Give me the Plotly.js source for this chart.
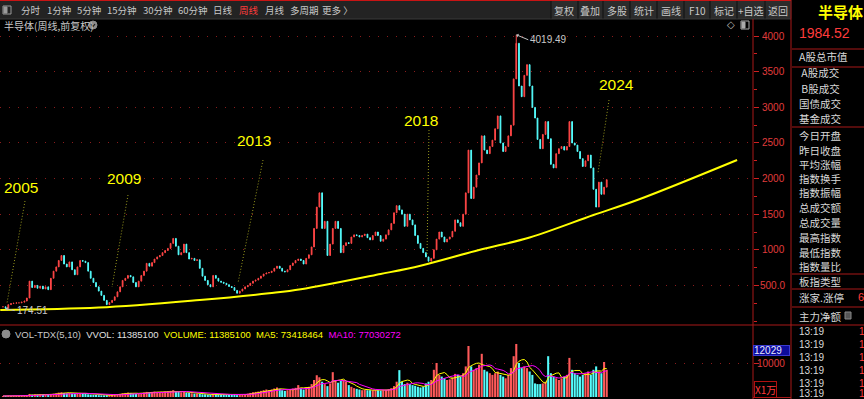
<!DOCTYPE html>
<html><head><meta charset="utf-8">
<script src="https://cdn.plot.ly/plotly-3.0.1.min.js"></script>
<style>html,body{margin:0;padding:0;background:#000;overflow:hidden}#chart{width:864px;height:399px}</style>
</head><body><div id="chart"></div>
<script>
// ---------------- DATA ----------------
const firstMonth = [2005, 6];           // first candle month (year, month)
// monthly closes
const closes = [
 200,180,230,245,250,255,255,
 265,280,323,560,470,500,460,490,450,480,440,600,
 700,760,850,920,800,760,830,720,650,760,850,840,
 820,700,600,540,480,420,360,290,230,260,290,340,
 410,480,570,600,640,620,540,480,560,640,700,810,
 770,820,870,900,920,960,990,1020,1090,1160,1050,930,
 960,1080,960,870,880,850,860,740,630,570,510,480,
 640,600,560,545,530,510,485,470,430,390,420,450,
 480,500,530,560,575,600,630,660,674,680,700,740,
 770,740,700,690,720,780,815,850,870,850,800,880,
 930,1040,1300,1600,1800,1300,1400,920,1080,1300,1400,1300,
 960,1060,1100,1090,1180,1210,1200,1180,1200,1220,1170,1140,
 1200,1250,1200,1120,1150,1210,1280,1370,1520,1620,1560,1500,
 1330,1500,1420,1350,1200,1090,1020,960,900,840,880,1000,
 1150,1250,1180,1110,1150,1180,1260,1420,1380,1330,1500,1800,
 2400,1720,1880,2050,2220,2600,2400,2350,2450,2540,2700,2880,
 2500,2380,2450,2600,2750,3400,3900,3300,3150,3450,3600,3300,
 3000,2850,2550,2420,2620,2800,2560,2200,2150,2350,2420,2450,
 2400,2450,2800,2500,2470,2380,2280,2170,2250,2330,2150,1850,
 1600,1950,1780,1880,1984.52
];
// volume (x1万)
const volumes = [
 300,280,350,300,320,300,330,
 350,400,600,900,700,800,700,750,650,700,650,900,
 1000,1100,1300,1400,1200,1100,1200,1000,900,1000,1200,1100,
 1000,800,700,650,600,550,500,500,550,600,650,700,
 800,900,1100,1200,1300,1200,1000,900,1000,1200,1300,1500,
 1400,1500,1600,1500,1400,1500,1600,1700,1800,2000,1700,1500,
 1400,1500,1300,1200,1100,1000,1000,900,800,800,700,700,
 900,800,800,750,700,650,650,600,600,550,650,700,
 800,1000,1200,1400,1500,1600,1800,2000,2200,2000,2200,2500,
 2800,2400,2000,1800,2000,2300,2500,2700,3500,2500,2200,2800,
 3000,3800,5000,6400,5800,4500,3800,3200,4000,7300,5000,4200,
 4800,5000,4500,3500,3000,2600,2400,2200,2000,2100,2000,2000,
 2000,2100,2000,1900,2000,2100,2300,2600,3200,4500,7900,4500,
 3800,4200,3800,3500,3300,3000,2800,3000,4000,4500,5000,8000,
 10000,6500,6000,5500,5000,5200,5800,6800,6500,6000,7000,9000,
 15000,9000,8000,8500,9500,12700,8000,7500,7000,6500,7000,7500,
 6500,6000,5500,6500,8500,12000,15600,10000,8500,9000,8500,7500,
 6500,4000,3800,3800,4000,4500,12000,7000,6000,5500,5000,5500,
 6000,6500,11500,8000,7000,6500,6000,6500,7000,7500,6500,8000,
 9000,7500,7000,10300,8000
];
const histHigh = 4019.49;
const histLow = 174.51;
// long-term support curve
const trendDates  = ['2005-05-01','2008-06-01','2011-08-01','2013-10-01','2014-10-01','2017-04-01','2018-07-01','2020-05-01','2021-12-01','2023-12-01','2025-05-01','2028-06-01'];
const trendValues = [154,188,295,389,445,660,777,997,1173,1488,1706,2261];
const priceTicks = [500,1000,1500,2000,2500,3000,3500,4000];
const priceTickText = ['500.0','1000','1500','2000','2500','3000','3500','4000'];
const volTicks = [10000];
const volTickText = ['10000'];
const yearLabels = ['2005','2009','2013','2018','2024'];
const toolbarLeft = ['分时','1分钟','5分钟','15分钟','30分钟','60分钟','日线','周线','月线','多周期','更多 〉'];
const toolbarRight = ['复权','叠加','多股','统计','画线','F10','标记','+自选','返回'];
const panelLabels = ['A股总市值',' A股成交',' B股成交','国债成交','基金成交','今日开盘','昨日收盘','平均涨幅','指数换手','指数振幅','总成交额','总成交量','最高指数','最低指数','指数量比','板指类型','涨家.涨停','主力净额'];
const panelTimes = ['13:19','13:19','13:19','13:19','13:19','13:19'];
const indexName = '半导体';
const lastPrice = '1984.52';
const chartTitle = '半导体(周线,前复权)';
const volLegend = ['VOL-TDX(5,10)','VVOL: 11385100','VOLUME: 11385100','MA5: 73418464','MA10: 77030272'];
const volMarker = '12029';

// ---------------- BUILD ----------------
const W = 864, H = 399;
const px = x => x / W, py = y => 1 - y / H;
const pad = n => (n < 10 ? '0' : '') + n;
const dates = closes.map((_, i) => {
  const t = firstMonth[0] * 12 + firstMonth[1] - 1 + i;
  return Math.floor(t / 12) + '-' + pad(t % 12 + 1) + '-01';
});
const opens = closes.map((c, i) => i === 0 ? c : closes[i - 1]);
const highs = closes.map((c, i) => Math.max(c, opens[i]));
const lows = closes.map((c, i) => Math.min(c, opens[i]));
const iMax = closes.indexOf(Math.max(...closes));
const iMin = closes.indexOf(Math.min(...closes));
highs[iMax] = histHigh; lows[iMin] = histLow;
const up = closes.map((c, i) => c >= opens[i]);
const ma = n => volumes.map((v, i) => { const s = volumes.slice(Math.max(0, i - n + 1), i + 1); return s.reduce((a, b) => a + b, 0) / s.length; });

const RED = '#ff4646', CYAN = '#54fcfc', LINE = '#a81818', GRID = '#8a1c1c';
const CJK = 'Noto Sans CJK SC, Liberation Sans, sans-serif';
const LAT = 'Liberation Sans, Arial, sans-serif';

const traces = [
  { type: 'scatter', mode: 'lines', x: trendDates, y: trendValues, line: { color: '#ffff00', width: 2, shape: 'spline' }, xaxis: 'x', yaxis: 'y', hoverinfo: 'skip' },
  { type: 'candlestick', x: dates, open: opens, high: highs, low: lows, close: closes, xaxis: 'x', yaxis: 'y', whiskerwidth: 0,
    increasing: { line: { color: RED, width: 1 }, fillcolor: RED },
    decreasing: { line: { color: CYAN, width: 1 }, fillcolor: CYAN } },
  { type: 'bar', x: dates, y: volumes, marker: { color: up.map(u => u ? '#ff5a5a' : CYAN), line: { width: 0 } }, xaxis: 'x2', yaxis: 'y2' },
  { type: 'scatter', mode: 'lines', x: dates, y: ma(5), line: { color: '#ffff00', width: 1 }, xaxis: 'x2', yaxis: 'y2' },
  { type: 'scatter', mode: 'lines', x: dates, y: ma(10), line: { color: '#ff00ff', width: 1 }, xaxis: 'x2', yaxis: 'y2' }
];

const shapes = [];
const annotations = [];
const line = (x0, y0, x1, y1, color, extra) => shapes.push(Object.assign({ type: 'line', xref: 'paper', yref: 'paper', x0: px(x0), y0: py(y0), x1: px(x1), y1: py(y1), line: { color: color, width: 1 } }, extra || {}));
const rect = (x0, y0, x1, y1, fill, lc) => shapes.push({ type: 'rect', xref: 'paper', yref: 'paper', x0: px(x0), y0: py(y0), x1: px(x1), y1: py(y1), fillcolor: fill, line: { color: lc || fill, width: 1 }, layer: 'above' });
const text = (t, x, y, o) => annotations.push(Object.assign({ text: t, xref: 'paper', yref: 'paper', x: px(x), y: py(y), showarrow: false, xanchor: 'left', yanchor: 'middle', font: { family: CJK, size: 11, color: '#d2d2d2' } }, o || {}));

// toolbar
rect(0, 0, 791, 18.5, '#232323');
rect(551, 1, 790, 18.5, '#2c2c2c');
line(0, 0.5, 791, 0.5, '#c81414');
line(0, 19, 791, 19, '#3a3a3a');
[551, 578, 603, 630, 657, 684, 710, 737, 765].forEach(x => line(x, 1, x, 18.5, '#0e0e0e'));
rect(3, 6, 11, 14, 'rgba(0,0,0,0)', '#9a9a9a');
rect(4, 7, 7, 13, '#9a9a9a', '#9a9a9a');
const tlX = [31, 59, 89, 121.5, 157.5, 193, 223, 248.5, 274.5, 304, 337.5];
toolbarLeft.forEach((t, i) => text(t, tlX[i], 10.5, { xanchor: 'center', font: { family: CJK, size: 9.5, color: t === '周线' ? '#ff3c3c' : '#c8c8c8' } }));
const trX = [564, 590, 616.5, 643.5, 670.5, 697, 723.5, 751, 777.5];
toolbarRight.forEach((t, i) => text(t, trX[i], 10.5, { xanchor: 'center', font: { family: CJK, size: 10, color: '#c8c8c8' } }));

// frame lines
line(753, 19, 753, 399, LINE);
line(791, 0, 791, 399, LINE);
line(0, 325, 864, 325, LINE);
line(753, 397.5, 791, 397.5, LINE);
[49, 67, 127, 274, 289, 307].forEach(y => line(792, y, 864, y, LINE));

// right panel
text(indexName, 840, 11, { xanchor: 'center', font: { family: CJK, size: 15, color: '#ffff00', weight: 'bold' } });
text(lastPrice, 797, 33, { font: { family: LAT, size: 14, color: '#ff3c3c' } });
const panelY = [57, 73, 88, 103, 118, 135, 150, 164, 178, 193, 207, 222, 237, 252, 266, 281, 297, 316];
panelLabels.forEach((t, i) => text(t, 797, panelY[i], { font: { family: CJK, size: 10.5, color: '#d8d8d8' } }));
text('6', 856, 297, { font: { family: LAT, size: 11, color: '#ff3c3c' } });
rect(845, 312, 851, 319, '#555', '#888');
const timeY = [331.5, 344.5, 357.5, 370.5, 383, 393];
panelTimes.forEach((t, i) => { text(t, 797, timeY[i], { font: { family: LAT, size: 10, color: '#d8d8d8' } }); text('1', 857, timeY[i], { font: { family: LAT, size: 10, color: '#ff3c3c' } }); });

// title row
text(chartTitle, 2, 25.5, { font: { family: CJK, size: 10, color: '#c8c8c8' } });
shapes.push({ type: 'circle', xref: 'paper', yref: 'paper', x0: px(89), x1: px(97), y0: py(21), y1: py(29), fillcolor: '#8c8c8c', line: { color: '#8c8c8c', width: 1 } });
shapes.push({ type: 'path', xref: 'paper', yref: 'paper', path: 'M' + px(91) + ',' + py(24) + ' L' + px(93) + ',' + py(26.5) + ' L' + px(95) + ',' + py(24), line: { color: '#1a1a1a', width: 1.2 } });
text('◇', 730.5, 25, { xanchor: 'center', font: { family: 'DejaVu Sans', size: 10, color: '#bbbbbb' } });
rect(741, 21, 749, 29, 'rgba(0,0,0,0)', '#aaaaaa');
rect(742, 22, 745, 28, '#aaaaaa', '#aaaaaa');

// axis labels (through the y scales)
priceTicks.forEach((v, i) => annotations.push({ text: priceTickText[i], xref: 'paper', yref: 'y', x: px(787), y: v, xanchor: 'right', yanchor: 'middle', showarrow: false, font: { family: LAT, size: 10, color: '#e03c3c' } }));
volTicks.forEach((v, i) => annotations.push({ text: volTickText[i], xref: 'paper', yref: 'y2', x: px(787), y: v, xanchor: 'right', yanchor: 'middle', showarrow: false, font: { family: LAT, size: 10, color: '#e03c3c' } }));
annotations.push({ text: volMarker, xref: 'paper', yref: 'paper', x: px(753), y: py(350), xanchor: 'left', yanchor: 'middle', showarrow: false, width: 35, height: 9, align: 'left', bgcolor: '#0c0c9c', bordercolor: '#3a3ad0', borderwidth: 1, borderpad: 0, font: { family: LAT, size: 10, color: '#e8e8ff' } });
annotations.push({ text: 'X1万', xref: 'paper', yref: 'paper', x: px(753.5), y: py(389.5), xanchor: 'left', yanchor: 'middle', showarrow: false, bordercolor: '#b01010', borderwidth: 1, borderpad: 0, font: { family: CJK, size: 10, color: '#ff3c3c' } });

// volume legend (one line, coloured spans)
shapes.push({ type: 'circle', xref: 'paper', yref: 'paper', x0: px(2), x1: px(10), y0: py(330), y1: py(338), fillcolor: '#8c8c8c', line: { color: '#8c8c8c', width: 1 } });
const vlC = ['#c8c8c8', '#e0e0e0', '#ffff00', '#ffff00', '#ff00ff'];
text(volLegend.map((t, i) => '<span style="color:' + vlC[i] + '">' + t + '</span>').join('  '), 13, 334, { font: { family: LAT, size: 9.5, color: '#c8c8c8' } });

// year callouts
const yrPos = [[20.5, 187], [123.5, 178], [253.5, 140], [420.5, 120], [616.5, 85]];
yearLabels.forEach((t, i) => text(t, yrPos[i][0], yrPos[i][1], { xanchor: 'center', font: { family: LAT, size: 15.5, color: '#ffff00' } }));
const yrArrows = [[25, 201, 7, 303], [128, 195, 112, 287], [263, 160, 238, 283], [429, 130, 427, 255], [609, 100, 598, 173]];
yrArrows.forEach(a => line(a[0], a[1], a[2], a[3], '#9a9a1e', { line: { color: '#9a9a1e', width: 1, dash: '1px,2px' } }));

// extreme labels
annotations.push({ text: histHigh.toFixed(2), x: dates[iMax], y: histHigh, xref: 'x', yref: 'y', showarrow: true, arrowhead: 1, arrowsize: 0.7, arrowwidth: 1, arrowcolor: '#c0c0c0', ax: 12, ay: 5, xanchor: 'left', font: { family: LAT, size: 10, color: '#c8c8c8' } });
annotations.push({ text: histLow.toFixed(2), x: dates[iMin], y: histLow, xref: 'x', yref: 'y', showarrow: true, arrowhead: 1, arrowsize: 0.7, arrowwidth: 1, arrowcolor: '#c0c0c0', ax: 9, ay: 2, xanchor: 'left', font: { family: LAT, size: 10, color: '#c8c8c8' } });

const xRange = ['2005-04-28', '2028-11-30'];
const layout = {
  width: W, height: H, margin: { l: 0, r: 0, t: 0, b: 0 },
  paper_bgcolor: '#000', plot_bgcolor: '#000', showlegend: false, hovermode: false, bargap: 0.15, boxgap: 0.55,
  xaxis: { domain: [0, px(753)], range: xRange, type: 'date', showgrid: false, zeroline: false, showticklabels: false, ticks: '', showline: false, rangeslider: { visible: false }, anchor: 'y' },
  xaxis2: { domain: [0, px(753)], range: xRange, type: 'date', matches: 'x', showgrid: false, zeroline: false, showticklabels: false, ticks: '', showline: false, anchor: 'y2' },
  yaxis: { domain: [py(325), py(20)], range: [-56, 4227], side: 'right', tickmode: 'array', tickvals: priceTicks, showticklabels: false, ticks: 'outside', ticklen: 5, tickcolor: '#d02020', showgrid: true, gridcolor: GRID, griddash: '1px,8px', gridwidth: 1, zeroline: false, showline: false,
    minor: { tickmode: 'linear', tick0: 0, dtick: 250, ticks: 'outside', ticklen: 3, tickcolor: '#d02020', showgrid: false } },
  yaxis2: { domain: [py(397), py(340)], range: [0, 16765], side: 'right', tickmode: 'array', tickvals: volTicks, showticklabels: false, ticks: 'outside', ticklen: 5, tickcolor: '#d02020', showgrid: true, gridcolor: GRID, griddash: '1px,8px', zeroline: false, showline: false },
  shapes: shapes, annotations: annotations
};
Plotly.newPlot('chart', traces, layout, { staticPlot: true, displayModeBar: false });
</script></body></html>
